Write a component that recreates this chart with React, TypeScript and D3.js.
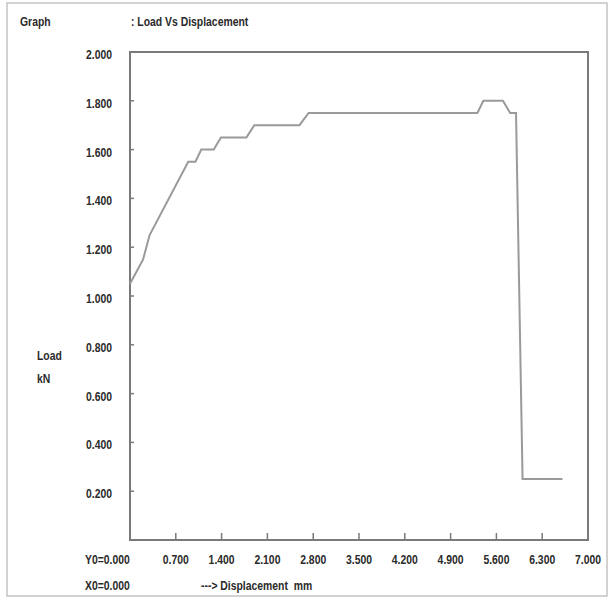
import React, { useEffect, useRef } from 'react';
import * as d3 from 'd3';

// displacement (mm) and load (kN)
const displacement = [0, 0.2, 0.3, 0.89, 1.0, 1.09, 1.28, 1.39, 1.78, 1.9, 2.59, 2.73, 5.31, 5.4, 5.7, 5.81, 5.9, 6.0, 6.61];
const load = [1.05, 1.15, 1.25, 1.55, 1.55, 1.6, 1.6, 1.65, 1.65, 1.7, 1.7, 1.75, 1.75, 1.8, 1.8, 1.75, 1.75, 0.25, 0.25];

const xTicks = [0.7, 1.4, 2.1, 2.8, 3.5, 4.2, 4.9, 5.6, 6.3, 7.0];
const yTicks = [0.2, 0.4, 0.6, 0.8, 1.0, 1.2, 1.4, 1.6, 1.8, 2.0];

const FONT = '"Liberation Sans", Arial, sans-serif';

function App() {
  const ref = useRef<SVGSVGElement>(null);

  useEffect(() => {
    const width = 610;
    const height = 598;
    const left = 130, right = 588, top = 52, bottom = 540;

    const svg = d3.select(ref.current);
    svg.selectAll('*').remove();
    svg.attr('width', width).attr('height', height);

    svg.append('rect').attr('width', width).attr('height', height).attr('fill', '#fff');

    // outer frame
    svg.append('rect')
      .attr('x', 7).attr('y', 3).attr('width', 600).attr('height', 593)
      .attr('fill', 'none').attr('stroke', '#c4c4c4').attr('stroke-width', 1.5);

    const x = d3.scaleLinear().domain([0, 7]).range([left, right]);
    const y = d3.scaleLinear().domain([0, 2]).range([bottom, top]);

    // condensed bold text, squeezed horizontally
    const text = (tx: number, ty: number, s: string, anchor = 'start') =>
      svg.append('text')
        .attr('transform', `translate(${tx},${ty}) scale(0.8,1)`)
        .attr('text-anchor', anchor)
        .attr('font-family', FONT)
        .attr('font-weight', 'bold')
        .attr('font-size', 13)
        .attr('fill', '#2a2a2a')
        .style('white-space', 'pre')
        .text(s);

    text(20, 26, 'Graph');
    text(131, 26, ': Load Vs Displacement');

    // plot box
    svg.append('rect')
      .attr('x', x(0)).attr('y', y(2))
      .attr('width', x(7) - x(0)).attr('height', y(0) - y(2))
      .attr('fill', 'none').attr('stroke', '#7a7a7a').attr('stroke-width', 2);

    // y ticks + labels
    yTicks.forEach(v => {
      svg.append('line')
        .attr('x1', x(0)).attr('x2', x(0) + 4)
        .attr('y1', y(v)).attr('y2', y(v))
        .attr('stroke', '#7a7a7a').attr('stroke-width', 1.5);
      text(112, y(v) + 7, v.toFixed(3), 'end');
    });

    // x ticks + labels
    xTicks.forEach(v => {
      if (v < 7) {
        svg.append('line')
          .attr('x1', x(v)).attr('x2', x(v))
          .attr('y1', y(0)).attr('y2', y(0) - 7)
          .attr('stroke', '#7a7a7a').attr('stroke-width', 1.5);
      }
      text(x(v), 564, v.toFixed(3), 'middle');
    });

    text(85, 564, 'Y0=0.000');
    text(85, 590, 'X0=0.000');
    text(201, 590, '---> Displacement  mm');

    text(37, 360, 'Load');
    text(37, 383, 'kN');

    const line = d3.line<number>()
      .x((_, i) => x(displacement[i]))
      .y(d => y(d));

    svg.append('path')
      .datum(load)
      .attr('d', line)
      .attr('fill', 'none')
      .attr('stroke', '#9a9a9a')
      .attr('stroke-width', 2);
  }, []);

  return (
    <div style={{ position: 'absolute', left: 0, top: 0 }}>
      <svg ref={ref}></svg>
    </div>
  );
}

export default App;
